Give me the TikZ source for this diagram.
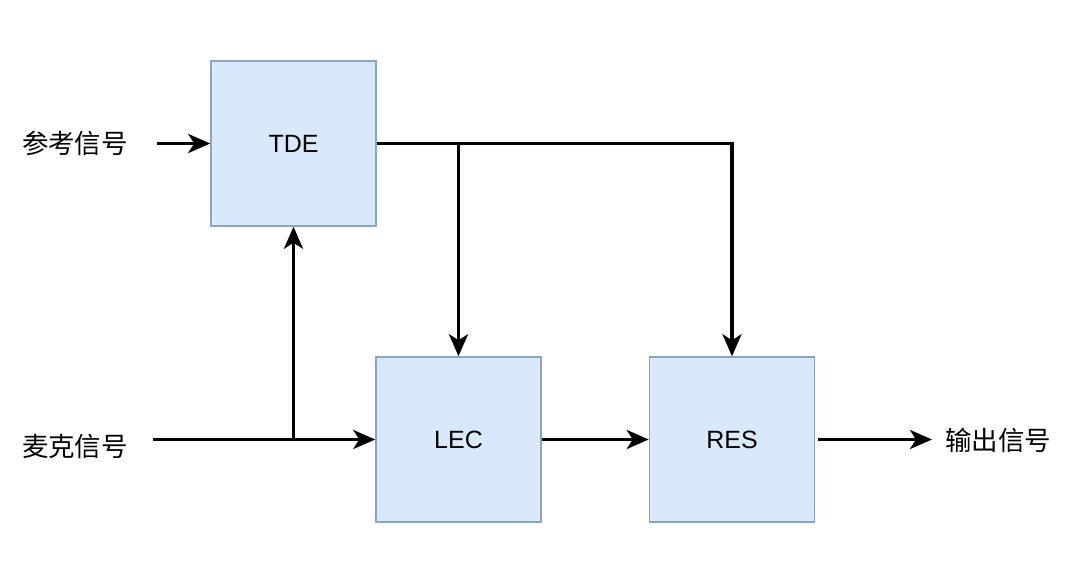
\documentclass[tikz,border=0pt]{standalone}
\usepackage{fontspec}
\setmainfont{Liberation Sans}
\newfontfamily\cjk{Noto Sans CJK SC}
\usetikzlibrary{arrows.meta}
\definecolor{boxfill}{HTML}{DAE8FC}
\definecolor{boxline}{HTML}{8CA3C5}
\begin{document}
\begin{tikzpicture}[x=1pt,y=-1pt,
  blk/.style={draw=boxline,fill=boxfill,line width=1.5pt,minimum width=165pt,minimum height=165pt,inner sep=0pt,font=\fontsize{25}{29}\selectfont},
  lbl/.style={font=\cjk\fontsize{26.5}{30}\selectfont,inner sep=0pt},
  wire/.style={line width=3.5pt,draw=black,line join=miter},
  arr/.style={wire,-{Stealth[length=22pt,width=19pt,inset=6pt]}}]
\useasboundingbox (0,0) rectangle (1080,562);
\fill[white] (0,0) rectangle (1080,562);
\node[blk] (tde) at (293.5,143.5) {TDE};
\node[blk] (lec) at (458.5,439.5) {LEC};
\node[blk] (res) at (732,439.5) {RES};
\node[lbl] (ref) at (75,143) {参考信号};
\node[lbl] (mic) at (75,446) {麦克信号};
\node[lbl] (out) at (998,440) {输出信号};
\coordinate (refs) at (157,143.5);
\coordinate (mics) at (153,439.5);
\coordinate (brA) at (293.5,439.5);
\coordinate (brB) at (458.5,143.5);
\coordinate (corner) at (732,143.5);
\coordinate (outs) at (818,439.5);
\coordinate (oute) at (932,439.5);
\draw[arr] (refs) -- (tde.west);
\draw[arr] (mics) -- (lec.west);
\draw[arr] (brA) -- (tde.south);
\draw[arr] (tde.east) -- (corner) -- (res.north);
\draw[arr] (brB) -- (lec.north);
\draw[arr] (lec.east) -- (res.west);
\draw[arr] (outs) -- (oute);
\end{tikzpicture}
\end{document}
